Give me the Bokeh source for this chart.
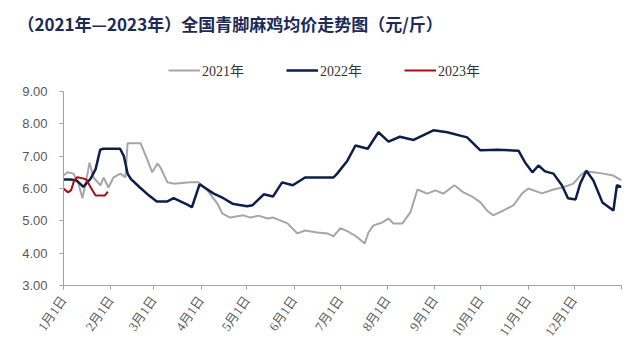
import math
from bokeh.plotting import figure
from bokeh.models import FixedTicker, Legend, LegendItem, Range1d, NumeralTickFormatter
from bokeh.embed import file_html
from bokeh.resources import INLINE

# ---- data (x = day of year, y = price 元/斤) ----
month_ticks = [0, 31, 59, 90, 120, 151, 181, 212, 243, 273, 304, 334, 365]
month_labels = ["1月1日", "2月1日", "3月1日", "4月1日", "5月1日", "6月1日",
                "7月1日", "8月1日", "9月1日", "10月1日", "11月1日", "12月1日", ""]
y_ticks = [3, 4, 5, 6, 7, 8, 9]

days_2021 = [0, 2.6, 6.5, 9.8, 12.4, 15.7, 17, 19.6, 24.2, 26.2, 29.4, 32.7, 37.3, 40.5,
             41.9, 50.4, 55, 58, 61.5, 63.4, 68, 72, 83, 88.3, 94, 100.7, 104, 109, 117.7,
             122.3, 127.5, 133.4, 137.3, 146.5, 153, 158, 166, 172.7, 176.6, 181, 185.7,
             192, 197, 199.5, 202.7, 208.6, 212.6, 215.8, 221.7, 227, 231.5, 238, 243.3,
             248.5, 255.7, 261.6, 268, 272.7, 277, 281, 287.8, 294.3, 300, 304, 313, 320.5,
             327, 333.5, 338, 341.4, 346.6, 353, 359.7, 365]
price_2021 = [6.4, 6.5, 6.46, 6.15, 5.7, 6.46, 6.8, 6.34, 6.1, 6.34, 6.03, 6.34, 6.46, 6.34,
              7.4, 7.4, 6.87, 6.5, 6.77, 6.65, 6.19, 6.15, 6.19, 6.19, 5.95, 5.53, 5.22, 5.1, 5.17,
              5.1, 5.16, 5.07, 5.1, 4.92, 4.61, 4.7, 4.64, 4.61, 4.52, 4.77, 4.68,
              4.5, 4.3, 4.64, 4.86, 4.95, 5.07, 4.92, 4.92, 5.27, 5.97, 5.84, 5.94,
              5.84, 6.1, 5.88, 5.73, 5.57, 5.32, 5.17, 5.32, 5.48, 5.85, 6.0, 5.85, 5.97,
              6.04, 6.15, 6.4, 6.53, 6.5, 6.46, 6.4, 6.25]

days_2022 = [0, 4.6, 8.5, 13, 17.7, 21, 24, 26, 37, 39.5, 42, 44, 50, 56, 61, 68, 72,
             76.5, 81, 84, 89, 98, 104.6, 110.5, 120, 123.6, 131, 137, 143, 150, 158,
             176.6, 179, 185.7, 191, 199, 206, 212.6, 220, 229, 242, 251, 264, 272.7, 284,
             297.6, 302, 306.7, 310.7, 315, 320.5, 326, 330, 334.9, 338, 342, 346.6, 352.5,
             359.7, 362, 365]
price_2022 = [6.28, 6.28, 6.25, 6.05, 6.3, 6.6, 7.2, 7.23, 7.23, 7.0, 6.45, 6.3, 6.03, 5.78,
              5.6, 5.6, 5.7, 5.6, 5.5, 5.42, 6.13, 5.85, 5.7, 5.53, 5.45, 5.48, 5.82, 5.75,
              6.19, 6.1, 6.34, 6.34, 6.46, 6.86, 7.33, 7.23, 7.74, 7.45, 7.6, 7.5, 7.8, 7.74,
              7.58, 7.18, 7.2, 7.17, 6.8, 6.5, 6.71, 6.53, 6.46, 6.1, 5.7, 5.66, 6.15, 6.55,
              6.25, 5.57, 5.32, 6.1, 6.04]

days_2023 = [0, 3, 5, 7, 9, 12, 15, 17, 19, 21, 27, 29]
price_2023 = [6.0, 5.88, 5.95, 6.25, 6.35, 6.32, 6.28, 6.1, 5.94, 5.78, 5.78, 5.9]

series_names = ["2021年", "2022年", "2023年"]
colors = ["#a6a6a6", "#0c1f4b", "#a50f15"]
widths = [2, 2.5, 2]

# frame extends above 9.00 so the legend can sit inside it; axis line is bounded to 3..9
p = figure(width=640, height=362, output_backend="svg", toolbar_location=None,
           x_range=Range1d(0, 365), y_range=Range1d(3, 10.453),
           min_border_left=63, min_border_right=19, min_border_top=44, min_border_bottom=77)
p.outline_line_color = None
p.xgrid.grid_line_color = None
p.ygrid.grid_line_color = None
p.background_fill_color = "white"
p.border_fill_color = "white"

p.title.text = "（2021年—2023年）全国青脚麻鸡均价走势图（元/斤）"
p.title.text_font = "Noto Sans CJK SC"
p.title.text_font_size = "17px"
p.title.text_font_style = "bold"
p.title.text_color = "#1b2a57"
p.title.align = "left"
p.title.offset = -46
p.title.standoff = 17

renderers = []
for d, v, c, w in zip([days_2021, days_2022, days_2023],
                      [price_2021, price_2022, price_2023], colors, widths):
    renderers.append(p.line(d, v, line_color=c, line_width=w))

legend = Legend(items=[LegendItem(label=n, renderers=[r]) for n, r in zip(series_names, renderers)],
                orientation="horizontal", location=(105, 205))
legend.border_line_color = None
legend.background_fill_alpha = 0
legend.padding = 0
legend.margin = 0
legend.spacing = 42
legend.glyph_width = 32
legend.glyph_height = 20
legend.label_standoff = 2
legend.label_text_font = "'Liberation Serif', 'Noto Sans CJK SC'"
legend.label_text_font_size = "14px"
legend.label_text_color = "#333333"
p.add_layout(legend, "center")

axis_color = "#a0a0a0"
for ax in (p.xaxis[0], p.yaxis[0]):
    ax.axis_line_color = axis_color
    ax.major_tick_line_color = axis_color
    ax.minor_tick_line_color = None
    ax.major_tick_out = 4
    ax.major_tick_in = 0
    ax.major_label_text_color = "#595959"

p.yaxis.bounds = (3, 9)
p.yaxis.ticker = FixedTicker(ticks=y_ticks)
p.yaxis.formatter = NumeralTickFormatter(format="0.00")
p.yaxis.major_label_text_font = "'Liberation Sans', Arial"
p.yaxis.major_label_text_font_size = "13px"
p.yaxis.major_label_standoff = 12

p.xaxis.ticker = FixedTicker(ticks=month_ticks)
p.xaxis.major_label_overrides = {t: l for t, l in zip(month_ticks, month_labels)}
p.xaxis.major_label_orientation = 0.96
p.xaxis.major_label_text_font = "'Liberation Serif', 'Noto Sans CJK SC'"
p.xaxis.major_label_text_font_size = "13px"
p.xaxis.major_label_standoff = 8

open("out.html", "w").write(file_html(p, INLINE))
